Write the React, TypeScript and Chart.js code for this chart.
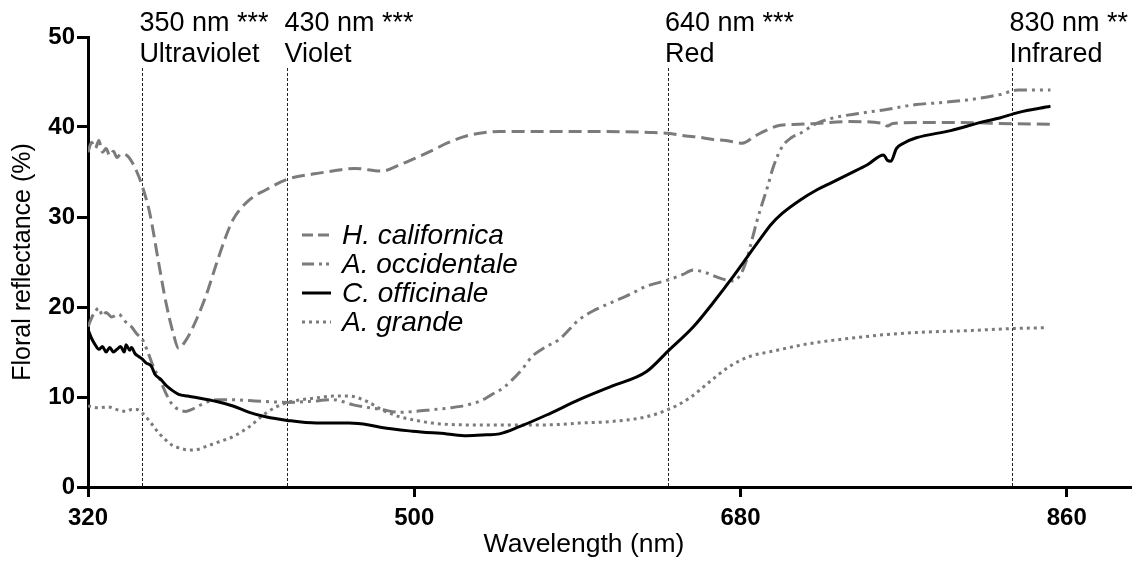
import React, { useEffect, useRef } from "react";
import { Chart, registerables } from "chart.js";

Chart.register(...registerables);

// ---------- DATA ----------
const SERIES_NAMES = ["H. californica", "A. occidentale", "C. officinale", "A. grande"];

const H_NM = [320, 322, 324, 326, 328, 330, 332, 334, 336, 338, 341, 344, 347, 350, 354, 359, 363, 367, 370, 374, 378, 385, 391, 396, 400, 409, 418, 430, 445, 455, 467, 482, 492, 499, 510, 518, 527, 536, 547, 570, 600, 630, 640, 650, 656, 665, 672, 681, 688, 695, 702, 712, 722, 740, 759, 761, 764, 777, 800, 823, 851];
const H_VAL = [37.2, 38.3, 37.6, 38.5, 37.2, 37.6, 36.8, 37.3, 36.6, 37.0, 36.9, 36.2, 35.0, 33.4, 30.5, 24.9, 20.5, 17.1, 15.4, 16.3, 17.8, 21.2, 24.9, 27.8, 29.7, 31.9, 33.0, 34.2, 34.8, 35.1, 35.4, 35.1, 35.8, 36.4, 37.4, 38.2, 38.9, 39.3, 39.5, 39.5, 39.5, 39.4, 39.3, 39.0, 38.9, 38.6, 38.5, 38.2, 39.0, 39.7, 40.2, 40.3, 40.4, 40.6, 40.4, 40.1, 40.4, 40.5, 40.5, 40.4, 40.3];

const O_NM = [320, 322, 324, 326, 328, 330, 333, 337, 340, 344, 347, 350, 353, 356, 360, 363, 366, 370, 374, 377, 381, 385, 392, 400, 409, 418, 430, 442, 455, 467, 482, 492, 500, 510, 520, 529, 537, 543, 549, 554, 560, 565, 572, 580, 591, 600, 610, 620, 628, 640, 648, 654, 661, 666, 672, 676, 680, 683, 686, 689, 692, 695, 698, 703, 708, 713, 722, 731, 745, 759, 777, 790, 805, 823, 833, 851];
const O_VAL = [17.8, 18.8, 19.5, 19.9, 19.0, 19.4, 18.9, 19.2, 18.5, 17.8, 17.0, 16.4, 15.0, 13.4, 11.8, 10.4, 9.3, 8.6, 8.4, 8.6, 9.0, 9.4, 9.7, 9.7, 9.6, 9.5, 9.4, 9.5, 9.7, 9.1, 8.6, 8.3, 8.4, 8.6, 8.8, 9.1, 9.6, 10.3, 11.0, 11.9, 13.2, 14.5, 15.5, 16.4, 18.6, 19.7, 20.6, 21.5, 22.3, 23.0, 23.6, 24.1, 23.8, 23.4, 23.0, 22.9, 23.6, 25.0, 27.2, 29.5, 31.5, 33.4, 35.5, 37.8, 38.8, 39.3, 40.4, 41.0, 41.5, 41.9, 42.5, 42.7, 43.0, 43.6, 44.1, 44.1];

const C_NM = [320, 322, 324, 326, 328, 330, 332, 334, 336, 338, 340, 341, 343, 344, 346, 348, 350, 352, 355, 357, 360, 363, 366, 370, 375, 381, 391, 400, 409, 418, 430, 446, 464, 475, 482, 499, 518, 529, 540, 547, 558, 573, 591, 609, 628, 640, 654, 665, 676, 691, 697, 703, 713, 722, 730, 740, 750, 759, 761, 763, 766, 770, 777, 796, 814, 823, 833, 851];
const C_VAL = [17.5, 16.5, 15.8, 15.3, 15.6, 15.0, 15.5, 15.0, 15.3, 15.6, 15.0, 15.8, 15.2, 15.5, 14.8, 14.5, 14.2, 13.8, 13.4, 12.5, 12.0, 11.3, 10.8, 10.3, 10.1, 9.9, 9.5, 9.0, 8.3, 7.8, 7.4, 7.1, 7.1, 6.9, 6.6, 6.2, 5.9, 5.7, 5.8, 5.9, 6.7, 8.0, 9.7, 11.2, 12.8, 15.1, 17.8, 20.5, 23.4, 27.6, 29.2, 30.4, 31.9, 33.0, 33.8, 34.8, 35.8, 36.9, 36.3, 36.2, 37.6, 38.2, 38.8, 39.6, 40.6, 41.0, 41.6, 42.3];

const G_NM = [320, 326, 331, 336, 341, 344, 347, 350, 354, 359, 363, 366, 371, 376, 381, 385, 392, 400, 409, 418, 424, 430, 446, 455, 464, 474, 482, 492, 501, 510, 529, 554, 573, 591, 610, 628, 640, 652, 663, 674, 685, 698, 717, 735, 753, 771, 808, 830, 849];
const G_VAL = [9.0, 8.8, 8.9, 8.6, 8.4, 8.6, 8.6, 8.2, 7.3, 6.0, 5.2, 4.7, 4.3, 4.1, 4.2, 4.5, 5.0, 5.6, 6.7, 8.2, 8.9, 9.4, 9.9, 10.1, 10.1, 9.5, 8.6, 7.8, 7.4, 7.1, 6.9, 6.9, 6.9, 7.1, 7.3, 7.8, 8.6, 9.9, 11.7, 13.4, 14.5, 15.1, 15.9, 16.4, 16.8, 17.1, 17.4, 17.6, 17.7];

const X_TICKS = [320, 500, 680, 860];
const X_MIN = 320;
const X_MAX = 896;
const Y_MIN = 0;
const Y_MAX = 50;
const Y_STEP = 10;

const MARK_NM = [350, 430, 640, 830];
const MARK_TOP = ["350 nm ***", "430 nm ***", "640 nm ***", "830 nm **"];
const MARK_BOTTOM = ["Ultraviolet", "Violet", "Red", "Infrared"];

const X_TITLE = "Wavelength (nm)";
const Y_TITLE = "Floral reflectance (%)";

// ---------- STYLE ----------
const FONT = "'Liberation Sans', Arial, Helvetica, sans-serif";
const GRAY = "#7b7b7b";
const STYLES = [
  { color: GRAY, dash: [13, 6], width: 3, legendDash: [11, 5] },
  { color: GRAY, dash: [13, 5, 3, 5, 3, 5], width: 3, legendDash: [12, 5, 3, 4, 3, 4] },
  { color: "#000000", dash: [], width: 3, legendDash: [] },
  { color: GRAY, dash: [3, 4], width: 3, legendDash: [3, 4] },
];

const toPoints = (xs: number[], ys: number[]) => xs.map((x, i) => ({ x, y: ys[i] }));

export default function App() {
  const canvasRef = useRef<HTMLCanvasElement | null>(null);

  useEffect(() => {
    document.body.style.margin = "0";
    const canvas = canvasRef.current;
    if (!canvas) return;

    const overlay = {
      id: "overlay",
      beforeDatasetsDraw(chart: any) {
        const { ctx, chartArea } = chart;
        const xs = chart.scales.x;
        ctx.save();
        ctx.strokeStyle = "#222";
        ctx.lineWidth = 1;
        ctx.setLineDash([3, 2]);
        MARK_NM.forEach((nm) => {
          const px = Math.round(xs.getPixelForValue(nm)) + 0.5;
          ctx.beginPath();
          ctx.moveTo(px, 68);
          ctx.lineTo(px, chartArea.bottom);
          ctx.stroke();
        });
        ctx.restore();
      },
      afterDraw(chart: any) {
        const { ctx } = chart;
        const xs = chart.scales.x;
        ctx.save();
        ctx.fillStyle = "#000";
        ctx.textAlign = "left";
        ctx.textBaseline = "alphabetic";
        ctx.font = `27px ${FONT}`;
        MARK_NM.forEach((nm, i) => {
          const px = xs.getPixelForValue(nm) - 3;
          ctx.fillText(MARK_TOP[i], px, 31);
          ctx.fillText(MARK_BOTTOM[i], px, 62);
        });

        // x axis title
        ctx.textAlign = "center";
        ctx.font = `26.5px ${FONT}`;
        ctx.fillText(X_TITLE, 584, 552);

        // legend
        const lx0 = 302;
        const lx1 = 331;
        const tx = 342;
        const rows = [235, 264, 293, 322];
        ctx.textAlign = "left";
        ctx.textBaseline = "middle";
        ctx.font = `italic 28px ${FONT}`;
        SERIES_NAMES.forEach((name, i) => {
          const st = STYLES[i];
          ctx.save();
          ctx.strokeStyle = st.color;
          ctx.lineWidth = st.width;
          ctx.setLineDash(st.legendDash);
          ctx.beginPath();
          ctx.moveTo(lx0, rows[i]);
          ctx.lineTo(lx1, rows[i]);
          ctx.stroke();
          ctx.restore();
          ctx.fillStyle = "#000";
          ctx.fillText(name, tx, rows[i] + 1);
        });
        ctx.restore();
      },
    };

    const seriesData = [
      toPoints(H_NM, H_VAL),
      toPoints(O_NM, O_VAL),
      toPoints(C_NM, C_VAL),
      toPoints(G_NM, G_VAL),
    ];

    const chart = new Chart(canvas, {
      type: "line",
      data: {
        datasets: SERIES_NAMES.map((name, i) => ({
          label: name,
          data: seriesData[i],
          borderColor: STYLES[i].color,
          borderWidth: STYLES[i].width,
          borderDash: STYLES[i].dash,
          pointRadius: 0,
          fill: false,
          cubicInterpolationMode: "monotone" as const,
          order: i === 2 ? 0 : 1,
        })),
      },
      options: {
        animation: false,
        responsive: false,
        devicePixelRatio: 1,
        layout: { padding: { top: 37, left: 0, right: 0, bottom: 0 } },
        plugins: {
          legend: { display: false },
          tooltip: { enabled: false },
        },
        scales: {
          x: {
            type: "linear",
            min: X_MIN,
            max: X_MAX,
            afterBuildTicks: (scale: any) => {
              scale.ticks = X_TICKS.map((v) => ({ value: v }));
            },
            afterFit: (scale: any) => {
              scale.height = 77;
            },
            grid: {
              display: true,
              drawOnChartArea: false,
              drawTicks: true,
              tickLength: 10,
              tickWidth: 3,
              tickColor: "#000",
            },
            border: { display: true, color: "#000", width: 3 },
            ticks: {
              color: "#000",
              padding: 7,
              maxRotation: 0,
              autoSkip: false,
              font: { family: FONT, size: 24, weight: "bold" },
            },
          },
          y: {
            type: "linear",
            min: Y_MIN,
            max: Y_MAX,
            afterFit: (scale: any) => {
              scale.width = 88;
            },
            grid: {
              display: true,
              drawOnChartArea: false,
              drawTicks: true,
              tickLength: 11,
              tickWidth: 3,
              tickColor: "#000",
            },
            border: { display: true, color: "#000", width: 3 },
            ticks: {
              stepSize: Y_STEP,
              color: "#000",
              padding: 2,
              font: { family: FONT, size: 24, weight: "bold" },
            },
            title: {
              display: true,
              text: Y_TITLE,
              color: "#000",
              font: { family: FONT, size: 25 },
              padding: { top: 8, bottom: 0 },
            },
          },
        },
      },
      plugins: [overlay],
    } as any);

    return () => chart.destroy();
  }, []);

  return (
    <div style={{ width: 1132, height: 564, position: "relative" }}>
      <canvas ref={canvasRef} width={1132} height={564} />
    </div>
  );
}
